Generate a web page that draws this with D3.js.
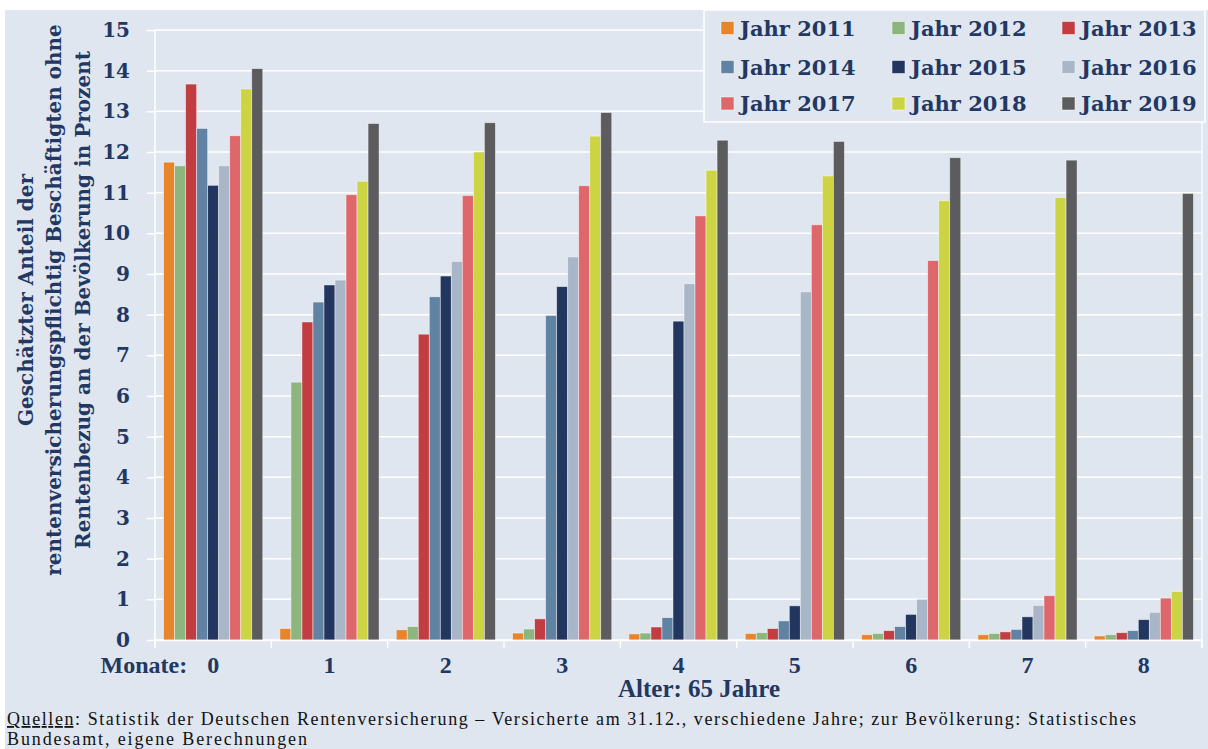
<!DOCTYPE html>
<html>
  <head>
    <meta charset="utf-8">
    <title>Beschäftigte ohne Rentenbezug</title>
    <script src="https://d3js.org/d3.v7.min.js"></script>
    <style>
      body { margin: 0; background: #fff; }
      svg { display: block; }
    </style>
  </head>

  <body>
    <svg width="1208" height="749"></svg>

    <script type="text/javascript">
      // Monate nach Vollendung des 65. Lebensjahres
      var months = ["0", "1", "2", "3", "4", "5", "6", "7", "8"];
      var years = ["2011", "2012", "2013", "2014", "2015", "2016", "2017", "2018", "2019"];
      var colors = ["#e8852b", "#8db57e", "#c23d42", "#6083a3", "#22365f", "#a8b6c7", "#dd676b", "#cdd443", "#5c5c5e"];

      var v2011 = [11.75, 0.28, 0.25, 0.17, 0.15, 0.16, 0.13, 0.13, 0.10];
      var v2012 = [11.66, 6.34, 0.33, 0.27, 0.17, 0.18, 0.16, 0.16, 0.13];
      var v2013 = [13.67, 7.82, 7.52, 0.52, 0.32, 0.28, 0.23, 0.20, 0.18];
      var v2014 = [12.58, 8.31, 8.44, 7.98, 0.55, 0.47, 0.33, 0.26, 0.23];
      var v2015 = [11.18, 8.73, 8.95, 8.69, 7.84, 0.84, 0.63, 0.57, 0.50];
      var v2016 = [11.66, 8.85, 9.31, 9.42, 8.76, 8.56, 1.00, 0.85, 0.68];
      var v2017 = [12.40, 10.95, 10.93, 11.17, 10.43, 10.21, 9.33, 1.09, 1.03];
      var v2018 = [13.55, 11.28, 12.00, 12.39, 11.55, 11.41, 10.80, 10.88, 1.19];
      var v2019 = [14.05, 12.70, 12.72, 12.97, 12.29, 12.26, 11.86, 11.80, 10.98];

      var yTicks = [0, 1, 2, 3, 4, 5, 6, 7, 8, 9, 10, 11, 12, 13, 14, 15];

      var yTitle = [
        "Geschätzter Anteil der",
        "rentenversicherungspflichtig Beschäftigten ohne",
        "Rentenbezug an der Bevölkerung in Prozent"
      ];

      var series = [v2011, v2012, v2013, v2014, v2015, v2016, v2017, v2018, v2019];
      var rows = [];
      years.forEach(function (yr, i) {
        series[i].forEach(function (v, j) {
          rows.push({ year: yr, month: months[j], value: v, color: colors[i] });
        });
      });

      var bg = "#dfe6ef";
      var ink = "#223762";
      var plotLeft = 155, plotTop = 30, plotRight = 1202, plotBottom = 640;
      var width = plotRight - plotLeft;
      var height = plotBottom - plotTop;

      var svg = d3.select("svg");

      svg.append("rect")
        .attr("x", 5).attr("y", 10)
        .attr("width", 1203).attr("height", 739)
        .attr("fill", bg);

      var chart = svg.append("g").attr("transform", "translate(" + plotLeft + "," + plotTop + ")");

      var x0 = d3.scaleBand().domain(months).range([0, width]).padding(0);
      var x1 = d3.scaleBand().domain(years).range([0, x0.bandwidth()])
        .paddingInner(0).paddingOuter(0.78);
      var y = d3.scaleLinear().domain([0, 15]).range([height, 0]);

      // gridlines
      chart.append("g")
        .selectAll("line")
        .data(yTicks)
        .enter()
        .append("line")
        .attr("x1", 0).attr("x2", width)
        .attr("y1", function (d) { return y(d); })
        .attr("y2", function (d) { return y(d); })
        .attr("stroke", "#ffffff")
        .attr("stroke-width", 1.5);

      // right border
      chart.append("line")
        .attr("x1", width).attr("x2", width)
        .attr("y1", 0).attr("y2", height + 8)
        .attr("stroke", "#ffffff").attr("stroke-width", 1.2);

      var yAxis = d3.axisLeft(y).tickValues(yTicks).tickSizeInner(8).tickSizeOuter(0).tickPadding(17);
      var gy = chart.append("g").call(yAxis);
      gy.select(".domain").attr("stroke", "#ffffff").attr("stroke-width", 1.5)
        .attr("d", "M0,0V" + (height + 8));
      gy.selectAll(".tick line").attr("stroke", "#ffffff").attr("stroke-width", 1.5);
      gy.selectAll(".tick text")
        .attr("fill", ink)
        .style("font-family", "'DejaVu Serif', serif")
        .style("font-weight", "bold")
        .style("font-size", "20px");

      // bars
      chart.append("g")
        .selectAll("rect")
        .data(rows)
        .enter()
        .append("rect")
        .attr("x", function (d) { return x0(d.month) + x1(d.year); })
        .attr("y", function (d) { return y(d.value); })
        .attr("width", x1.bandwidth())
        .attr("height", function (d) { return y(0) - y(d.value); })
        .attr("fill", function (d) { return d.color; })
        .attr("stroke", "rgba(255,255,255,0.55)")
        .attr("stroke-width", 0.8);

      // x axis
      var xAxis = d3.axisBottom(x0).tickSize(0).tickPadding(16);
      var gx = chart.append("g").attr("transform", "translate(0," + height + ")").call(xAxis);
      gx.select(".domain").attr("stroke", "#ffffff").attr("stroke-width", 1.5);
      gx.selectAll(".tick text")
        .attr("fill", ink)
        .style("font-family", "'Liberation Serif', serif")
        .style("font-weight", "bold")
        .style("font-size", "24px");

      chart.append("g")
        .selectAll("line")
        .data(months.concat(["end"]))
        .enter()
        .append("line")
        .attr("x1", function (d, i) { return i * x0.step(); })
        .attr("x2", function (d, i) { return i * x0.step(); })
        .attr("y1", height).attr("y2", height + 8)
        .attr("stroke", "#ffffff").attr("stroke-width", 1.5);

      chart.append("text")
        .attr("x", x0(months[0]) + x0.bandwidth() / 2 - 26)
        .attr("y", height + 33)
        .attr("text-anchor", "end")
        .attr("fill", ink)
        .style("font-family", "'Liberation Serif', serif")
        .style("font-weight", "bold")
        .style("font-size", "24px")
        .text("Monate:");

      chart.append("text")
        .attr("x", 544)
        .attr("y", height + 57)
        .attr("text-anchor", "middle")
        .attr("fill", ink)
        .style("font-family", "'Liberation Serif', serif")
        .style("font-weight", "bold")
        .style("font-size", "25px")
        .text("Alter: 65 Jahre");

      // y title
      svg.append("g")
        .attr("transform", "translate(54,300) rotate(-90)")
        .selectAll("text")
        .data(yTitle)
        .enter()
        .append("text")
        .attr("x", 0)
        .attr("y", function (d, i) { return (i - 1) * 28.5; })
        .attr("dy", "0.35em")
        .attr("text-anchor", "middle")
        .attr("fill", ink)
        .style("font-family", "'DejaVu Serif', serif")
        .style("font-weight", "bold")
        .style("font-size", "20px")
        .text(function (d) { return d; });

      // legend
      var legend = svg.append("g");
      legend.append("rect")
        .attr("x", 704).attr("y", 10)
        .attr("width", 501).attr("height", 112)
        .attr("fill", bg)
        .attr("stroke", "#ffffff").attr("stroke-width", 1.5);

      var colX = [721, 892, 1062];
      var rowY = [28, 67, 103.5];
      var items = legend.selectAll("g.item")
        .data(years)
        .enter()
        .append("g")
        .attr("class", "item")
        .attr("transform", function (d, i) {
          return "translate(" + colX[i % 3] + "," + rowY[Math.floor(i / 3)] + ")";
        });
      items.append("rect")
        .attr("x", 0).attr("y", -6.5)
        .attr("width", 13).attr("height", 13)
        .attr("fill", function (d, i) { return colors[i]; })
        .attr("stroke", "rgba(255,255,255,0.6)")
        .attr("stroke-width", 0.8);
      items.append("text")
        .attr("x", 19)
        .attr("dy", "0.36em")
        .attr("fill", ink)
        .style("font-family", "'DejaVu Serif', serif")
        .style("font-weight", "bold")
        .style("font-size", "21px")
        .text(function (d) { return "Jahr " + d; });

      // Quellen
      var foot = svg.append("text")
        .attr("x", 7).attr("y", 725)
        .attr("fill", "#111")
        .attr("textLength", 1129)
        .attr("lengthAdjust", "spacing")
        .style("font-family", "'Liberation Serif', serif")
        .style("font-size", "18px");
      foot.append("tspan").style("text-decoration", "underline").text("Quellen");
      foot.append("tspan").text(": Statistik der Deutschen Rentenversicherung \u2013 Versicherte am 31.12., verschiedene Jahre; zur Bevölkerung: Statistisches");

      svg.append("text")
        .attr("x", 7).attr("y", 745)
        .attr("fill", "#111")
        .attr("textLength", 300)
        .attr("lengthAdjust", "spacing")
        .style("font-family", "'Liberation Serif', serif")
        .style("font-size", "18px")
        .text("Bundesamt, eigene Berechnungen");
    </script>
  </body>
</html>
